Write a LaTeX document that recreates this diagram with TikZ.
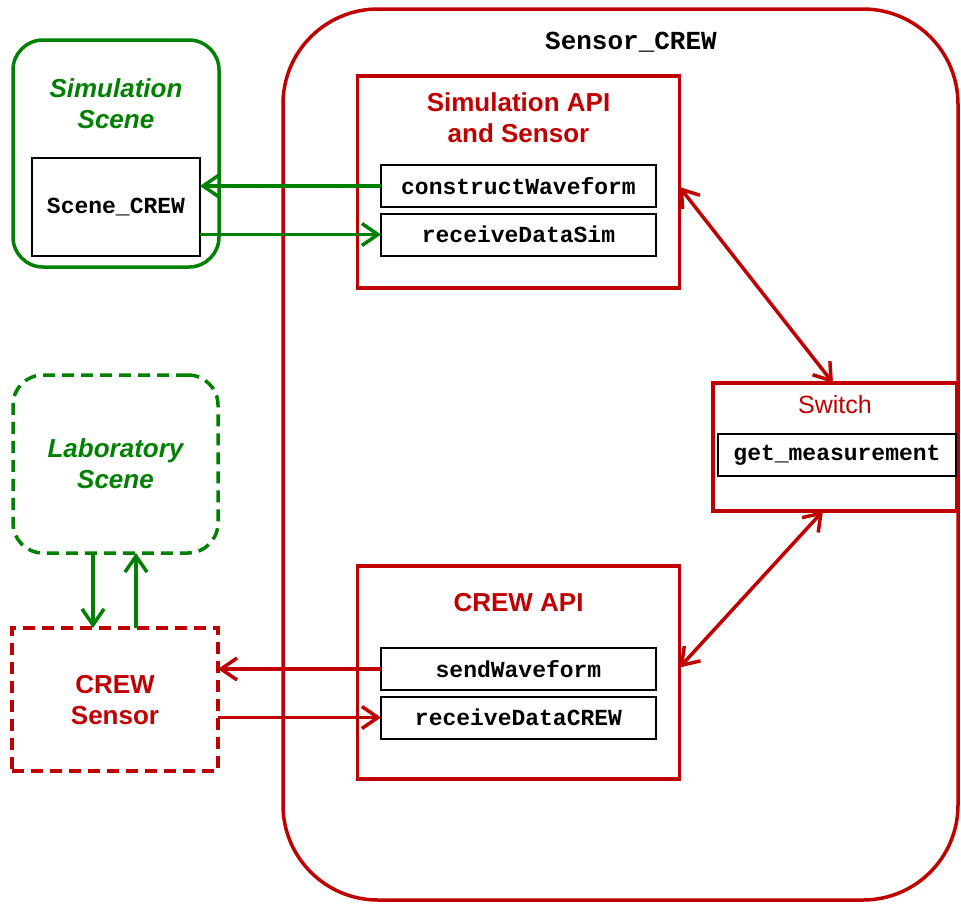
\documentclass[tikz,border=0pt]{standalone}
\usepackage{fontspec}
\setmainfont{Liberation Sans}
\setmonofont{Liberation Mono}
\usetikzlibrary{arrows.meta}
\definecolor{crewred}{RGB}{192,0,0}
\definecolor{scenegreen}{RGB}{0,128,0}
\tikzset{
  redbox/.style={draw=crewred, line width=3.5pt, inner sep=0pt, outer sep=0pt},
  greenbox/.style={draw=scenegreen, line width=3.5pt, inner sep=0pt, outer sep=0pt, rounded corners=30pt},
  fnbox/.style={draw=black, line width=2pt, inner sep=0pt, outer sep=0pt, fill=white,
    font=\fontsize{23}{27}\selectfont\ttfamily\bfseries},
  redtitle/.style={text=crewred, align=center, inner sep=0pt,
    font=\fontsize{26}{31}\selectfont\bfseries},
  greentitle/.style={text=scenegreen, align=center, inner sep=0pt,
    font=\fontsize{26}{31}\selectfont\bfseries\itshape},
  tip/.tip={Straight Barb[length=16pt,width=22pt,line width=3.5pt]},
  flow/.style={line width=3.5pt, -tip},
  bothflow/.style={line width=3.5pt, tip-tip},
}
\begin{document}
\begin{tikzpicture}[x=1pt,y=-1pt]
\useasboundingbox (0,0) rectangle (961,903);

% outer Sensor_CREW container
\node[redbox, rounded corners=95pt, minimum width=675pt, minimum height=891pt] (crew) at (620.5,454.5) {};
\node[inner sep=0pt, font=\fontsize{26}{31}\selectfont\ttfamily\bfseries] (crewT) at (631,42) {Sensor\_CREW};

% simulation side
\node[greenbox, minimum width=206pt, minimum height=227pt] (simscene) at (116,153.5) {};
\node[greentitle] (simsceneT) at (116,104) {Simulation\\Scene};
\node[fnbox, minimum width=168pt, minimum height=98pt] (scenecrew) at (116,207) {Scene\_CREW};

\node[redbox, minimum width=322pt, minimum height=212pt] (simapi) at (518.5,182) {};
\node[redtitle] (simapiT) at (518.5,118) {Simulation API\\and Sensor};
\node[fnbox, minimum width=275pt, minimum height=42pt] (cw) at (518.5,186) {constructWaveform};
\node[fnbox, minimum width=275pt, minimum height=42pt] (rds) at (518.5,234.5) {receiveDataSim};

% laboratory side
\node[greenbox, dash pattern=on 12pt off 7pt, minimum width=205pt, minimum height=178pt] (labscene) at (115.5,464) {};
\node[greentitle] (labsceneT) at (115.5,464) {Laboratory\\Scene};
\node[redbox, dash pattern=on 12pt off 7pt, minimum width=206pt, minimum height=143pt] (sensor) at (115,699.5) {};
\node[redtitle] (sensorT) at (115,700) {CREW\\Sensor};

\node[redbox, minimum width=322pt, minimum height=213pt] (crewapi) at (518.5,672.5) {};
\node[redtitle] (crewapiT) at (518.5,603) {CREW API};
\node[fnbox, minimum width=275pt, minimum height=42pt] (sw) at (518.5,669) {sendWaveform};
\node[fnbox, minimum width=275pt, minimum height=42pt] (rdc) at (518.5,717.5) {receiveDataCREW};

% switch
\node[redbox, minimum width=244pt, minimum height=128pt] (switch) at (835,447) {};
\node[text=crewred, inner sep=0pt, font=\fontsize{25}{30}\selectfont] (switchT) at (835,405) {Switch};
\node[fnbox, minimum width=238pt, minimum height=42pt] (gm) at (837,455) {get\_measurement};

% connectors
\draw[flow, scenegreen] (cw.west) -- (scenecrew.east |- cw.west);
\draw[flow, scenegreen] (scenecrew.east |- rds.west) -- (rds.west);
\draw[flow, scenegreen] ([xshift=-22.5pt]labscene.south) -- ([xshift=-22pt]sensor.north);
\draw[flow, scenegreen] ([xshift=21pt]sensor.north) -- ([xshift=20.5pt]labscene.south);
\draw[flow, crewred] (sw.west) -- (sensor.east |- sw.west);
\draw[flow, crewred] (sensor.east |- rdc.west) -- (rdc.west);
\draw[bothflow, crewred] ([yshift=-5pt]simapi.east) -- ([xshift=-2pt]switch.north);
\draw[bothflow, crewred] ([xshift=-12pt]switch.south) -- ([yshift=5pt]crewapi.east);
\end{tikzpicture}
\end{document}
